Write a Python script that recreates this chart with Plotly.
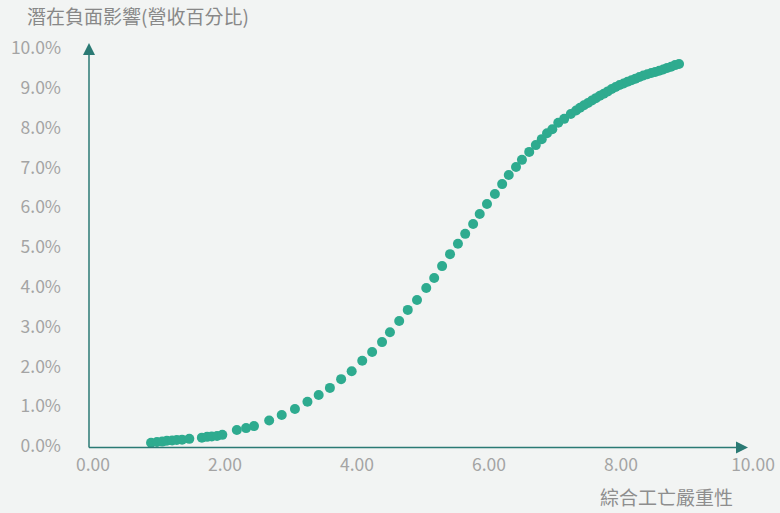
import plotly.graph_objects as go

# combined fatality severity (x) vs potential negative impact, % of revenue (y)
severity = [0.94, 1.03, 1.11, 1.18, 1.26, 1.33, 1.41, 1.52, 1.71, 1.79, 1.86, 1.94, 2.02,
            2.24, 2.38, 2.50, 2.73, 2.92, 3.12, 3.31, 3.48, 3.65, 3.82, 3.98, 4.14, 4.29,
            4.44, 4.56, 4.70, 4.83, 4.97, 5.11, 5.23, 5.35, 5.47, 5.59, 5.70, 5.82, 5.92,
            6.03, 6.15, 6.26, 6.36, 6.47, 6.56, 6.67, 6.77, 6.86, 6.94, 7.02, 7.11, 7.20,
            7.30, 7.38, 7.44, 7.50, 7.56, 7.62, 7.68, 7.74, 7.80, 7.86, 7.92, 7.98, 8.04,
            8.10, 8.16, 8.22, 8.28, 8.34, 8.40, 8.46, 8.52, 8.58, 8.64, 8.70, 8.76, 8.82,
            8.88, 8.94]
impact_pct = [0.08, 0.10, 0.11, 0.13, 0.14, 0.15, 0.16, 0.18, 0.21, 0.23, 0.24, 0.25, 0.28,
              0.40, 0.45, 0.50, 0.64, 0.78, 0.93, 1.11, 1.28, 1.46, 1.68, 1.88, 2.14, 2.36,
              2.61, 2.86, 3.14, 3.42, 3.67, 3.97, 4.22, 4.52, 4.82, 5.08, 5.33, 5.58, 5.83,
              6.08, 6.33, 6.58, 6.81, 7.01, 7.19, 7.39, 7.56, 7.71, 7.86, 7.96, 8.12, 8.22,
              8.34, 8.43, 8.50, 8.56, 8.62, 8.68, 8.74, 8.80, 8.85, 8.91, 8.97, 9.02, 9.07,
              9.11, 9.15, 9.19, 9.23, 9.27, 9.31, 9.34, 9.37, 9.40, 9.43, 9.46, 9.50, 9.53,
              9.57, 9.60]

x_ticks = [0, 2, 4, 6, 8, 10]
y_ticks = [0, 1, 2, 3, 4, 5, 6, 7, 8, 9, 10]

y_title = '潛在負面影響(營收百分比)'
x_title = '綜合工亡嚴重性'

bg = '#f2f4f3'
dot_col = '#2eab8f'
axis_col = '#2b7a74'
font_fam = 'Noto Sans CJK TC, Noto Sans, sans-serif'

fig = go.Figure()
fig.add_trace(go.Scatter(
    x=severity, y=impact_pct, mode='markers',
    marker=dict(size=10, color=dot_col),
    cliponaxis=False, showlegend=False))

# axis lines with arrow heads (paper refs so they are not clipped)
y0 = -0.004
fig.add_shape(type='line', xref='paper', yref='paper', x0=0, y0=y0, x1=0.985, y1=y0,
              line=dict(color=axis_col, width=1.5))
fig.add_shape(type='line', xref='paper', yref='paper', x0=0, y0=y0, x1=0, y1=1.0,
              line=dict(color=axis_col, width=1.5))
fig.add_shape(type='path', xref='paper', yref='paper', xsizemode='pixel', ysizemode='pixel',
              xanchor=0.9985, yanchor=y0, path='M 0 0 L -12 6 L -12 -6 Z',
              fillcolor=axis_col, line=dict(width=0))
fig.add_shape(type='path', xref='paper', yref='paper', xsizemode='pixel', ysizemode='pixel',
              xanchor=0, yanchor=1.0126, path='M 0 0 L -6 -12 L 6 -12 Z',
              fillcolor=axis_col, line=dict(width=0))

fig.add_annotation(x=0.979, y=-0.128, xref='paper', yref='paper', xanchor='right',
                   yanchor='middle', showarrow=False, text=x_title,
                   font=dict(size=19, color='#8e8e8e', family=font_fam))

fig.update_layout(
    width=780, height=513,
    paper_bgcolor=bg, plot_bgcolor=bg,
    margin=dict(l=89, r=31, t=48, b=67),
    font=dict(family=font_fam, color='#a4a4a4', size=17.5),
    title=dict(text=y_title, x=27/780, xanchor='left', y=1-17/513, yanchor='middle',
               font=dict(size=19, color='#888888', family=font_fam)),
    xaxis=dict(range=[0, 10], tickvals=x_ticks, ticktext=['%.2f' % v for v in x_ticks],
               showgrid=False, zeroline=False, showline=False, ticks='', automargin=False,
               ticklabelstandoff=6, ticklabelshift=4),
    yaxis=dict(range=[0, 10], tickvals=y_ticks, ticktext=['%.1f%%' % v for v in y_ticks],
               showgrid=False, zeroline=False, showline=False, ticks='', automargin=False,
               ticklabelstandoff=27),
)

fig.write_html("out.html", config={'displayModeBar': False},
               post_script="document.body.style.margin='0';")
